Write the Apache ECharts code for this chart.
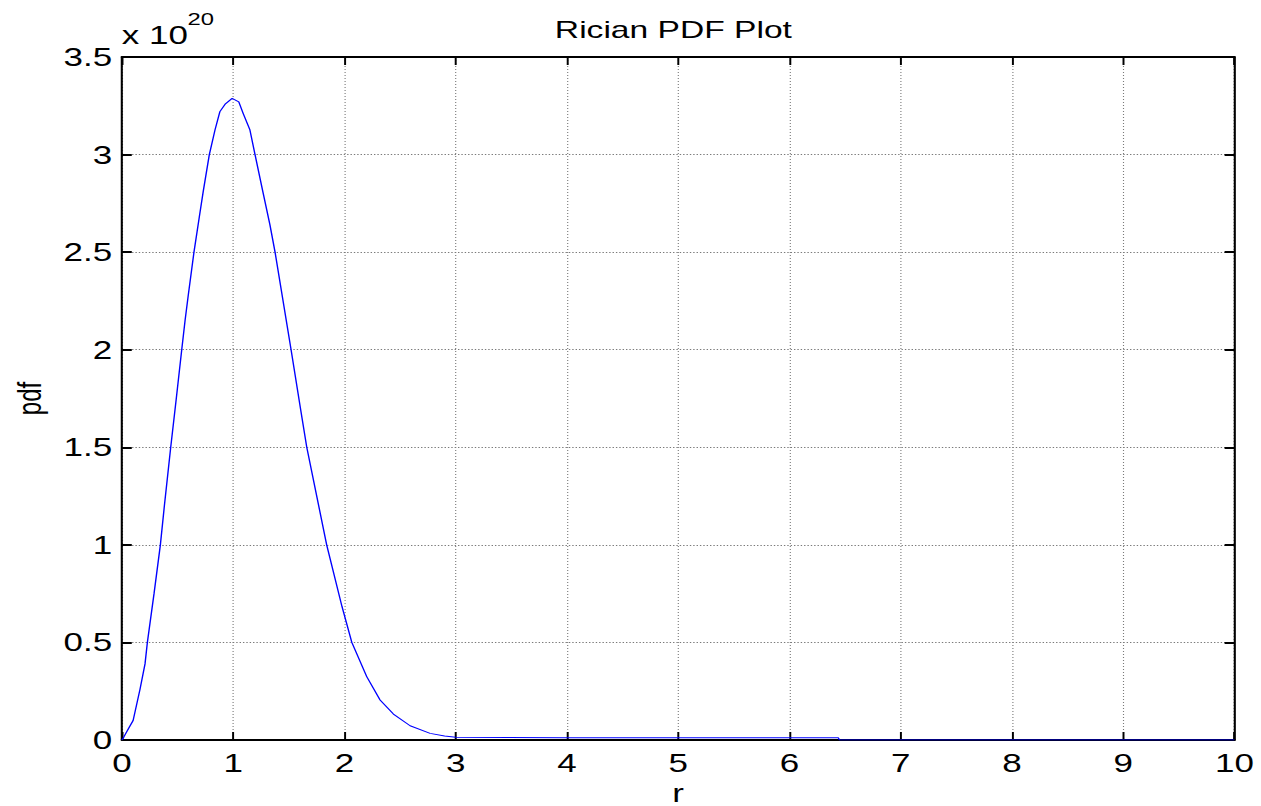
<!DOCTYPE html>
<html><head><meta charset="utf-8">
<script src="https://cdn.jsdelivr.net/npm/echarts@6/dist/echarts.min.js"></script>
<style>
html,body{margin:0;padding:0;background:#fff;overflow:hidden;width:1261px;height:806px}
/* the reference picture is stretched horizontally; draw at 1/1.4 width and stretch */
#c{width:901px;height:806px;transform:scaleX(1.4);transform-origin:0 0}
</style>
</head><body><div id="c"></div>
<script>
const titleText = 'Rician PDF Plot';
const xName = 'r';
const yName = 'pdf';
const scaleBase = 'x 10';
const scaleExponent = '20';
const xMin = 0, xMax = 10, xStep = 1;
const yMin = 0, yMax = 3.5, yStep = 0.5;
// r values and pdf values (pdf in units of 1e20)
const rValues = [0, 0.018, 0.06, 0.10, 0.162, 0.207, 0.228, 0.288, 0.345, 0.381, 0.438, 0.486, 0.537, 0.567, 0.596, 0.647, 0.695, 0.73, 0.785, 0.836, 0.88, 0.93, 0.99,
  1.05, 1.09, 1.15, 1.196, 1.27, 1.33, 1.376, 1.52, 1.607, 1.661, 1.84, 1.978, 2.066, 2.2, 2.32, 2.44, 2.59, 2.77, 2.9, 3.0,
  4.0, 5.0, 6.0, 6.44, 6.45, 7.0, 8.0, 9.0, 10.0];
const pdfValues = [0, 0.017, 0.06, 0.10, 0.26, 0.39, 0.5, 0.75, 1.0, 1.2, 1.5, 1.74, 2.0, 2.15, 2.28, 2.5, 2.68, 2.81, 3.0, 3.126, 3.22, 3.26, 3.288,
  3.27, 3.21, 3.126, 3.0, 2.80, 2.64, 2.5, 2.0, 1.69, 1.5, 1.0, 0.683, 0.5, 0.325, 0.205, 0.133, 0.073, 0.034, 0.02, 0.014,
  0.011, 0.011, 0.011, 0.011, 0, 0, 0, 0, 0];

const font = 'Liberation Sans';
const chart = echarts.init(document.getElementById('c'), null, {renderer: 'svg'});
const vGrid = {show: true, lineStyle: {color: '#7a7a7a', width: 0.8, type: [1, 2]}};
const hGrid = {show: true, lineStyle: {color: '#7a7a7a', width: 1, type: [1, 1.4]}};
const xLine = {show: true, onZero: false, lineStyle: {color: '#000', width: 2}};
const yLine = {show: true, onZero: false, lineStyle: {color: '#000', width: 1.5}};
const xTick = {show: true, inside: true, length: 8, lineStyle: {color: '#000', width: 1.4}};
const yTick = {show: true, inside: true, length: 7, lineStyle: {color: '#000', width: 2}};
chart.setOption({
  animation: false,
  backgroundColor: '#fff',
  title: {text: titleText, left: 476, top: 13, textAlign: 'center',
    textStyle: {fontFamily: font, fontSize: 24, fontWeight: 'normal', color: '#000'}},
  grid: {left: 87.14, right: 19.3, top: 57, bottom: 66, containLabel: false, outerBoundsMode: 'none'},
  xAxis: [
    {type: 'value', min: xMin, max: xMax, interval: xStep, position: 'bottom',
      name: xName, nameLocation: 'middle', nameGap: 40,
      nameTextStyle: {fontFamily: font, fontSize: 25, color: '#000'},
      axisLine: xLine, axisTick: xTick, splitLine: vGrid,
      axisLabel: {margin: 10, fontFamily: font, fontSize: 25, color: '#000'}},
    {type: 'value', min: xMin, max: xMax, interval: xStep, position: 'top',
      axisLine: xLine, axisTick: xTick, splitLine: {show: false}, axisLabel: {show: false}}
  ],
  yAxis: [
    {type: 'value', min: yMin, max: yMax, interval: yStep, position: 'left',
      name: yName, nameLocation: 'middle', nameGap: 54,
      nameTextStyle: {fontFamily: font, fontSize: 24, color: '#000'},
      axisLine: yLine, axisTick: yTick, splitLine: hGrid,
      axisLabel: {margin: 7, fontFamily: font, fontSize: 25, color: '#000'}},
    {type: 'value', min: yMin, max: yMax, interval: yStep, position: 'right',
      axisLine: yLine, axisTick: yTick, splitLine: {show: false}, axisLabel: {show: false}}
  ],
  graphic: [
    {type: 'text', left: 87, top: 22, z: 10,
      style: {text: scaleBase, fontFamily: font, fontSize: 25, fill: '#000'}},
    {type: 'text', left: 134, top: 10, z: 10,
      style: {text: scaleExponent, fontFamily: font, fontSize: 17, fill: '#000'}}
  ],
  series: [{
    type: 'line', xAxisIndex: 0, yAxisIndex: 0, z: 5,
    data: rValues.map((r, i) => [r, pdfValues[i]]),
    showSymbol: false, symbol: 'none', smooth: false,
    lineStyle: {color: '#0000ff', width: 1}
  }]
});
</script></body></html>
